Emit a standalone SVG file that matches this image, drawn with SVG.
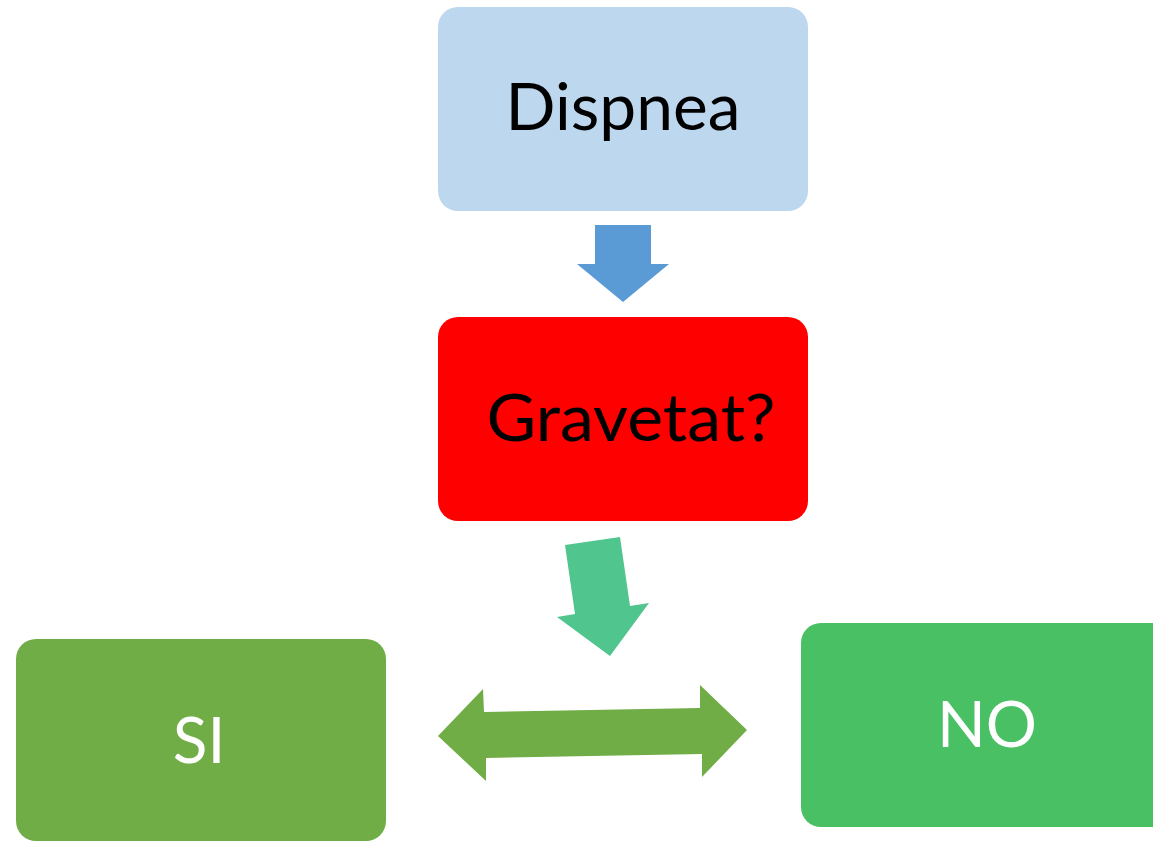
<svg xmlns="http://www.w3.org/2000/svg" width="1153" height="842" viewBox="0 0 1153 842">
<style>
.lbl{font-family:Lato,"Open Sans","Liberation Sans",sans-serif;text-anchor:middle}
.dark{fill:#000000}
.light{fill:#FFFFFF}
</style>
<rect width="1153" height="842" fill="#FFFFFF"/>
<g id="dispnea">
<rect x="438" y="7" width="370" height="204" rx="20" fill="#BDD7EE"/>
<text class="lbl dark" x="623" y="130" font-size="66" textLength="235" lengthAdjust="spacingAndGlyphs">Dispnea</text>
</g>
<g id="gravetat">
<rect x="438" y="317" width="370" height="204" rx="20" fill="#FF0000"/>
<text class="lbl dark" x="631" y="441" font-size="66" textLength="289" lengthAdjust="spacingAndGlyphs">Gravetat?</text>
</g>
<g id="si">
<rect x="16" y="639" width="370" height="202" rx="20" fill="#70AD47"/>
<text class="lbl light" x="199" y="763" font-size="64">SI</text>
</g>
<g id="no">
<rect x="801" y="623" width="380" height="204" rx="20" fill="#4AC065"/>
<text class="lbl light" x="987" y="747" font-size="64">NO</text>
</g>
<g id="connectors">
<polygon points="595,225 651,225 651,264 669,264 623,302 577,264 595,264" fill="#5B9BD5"/>
<polygon points="565,545 620,537 630,606 649,603 610,656 557,617 575,614" fill="#50C58E"/>
<polygon points="438,736 483,689 484,712 700,708 700,685 747,730 702,777 702,754 486,758 486,781" fill="#70AD47"/>
</g>
</svg>
